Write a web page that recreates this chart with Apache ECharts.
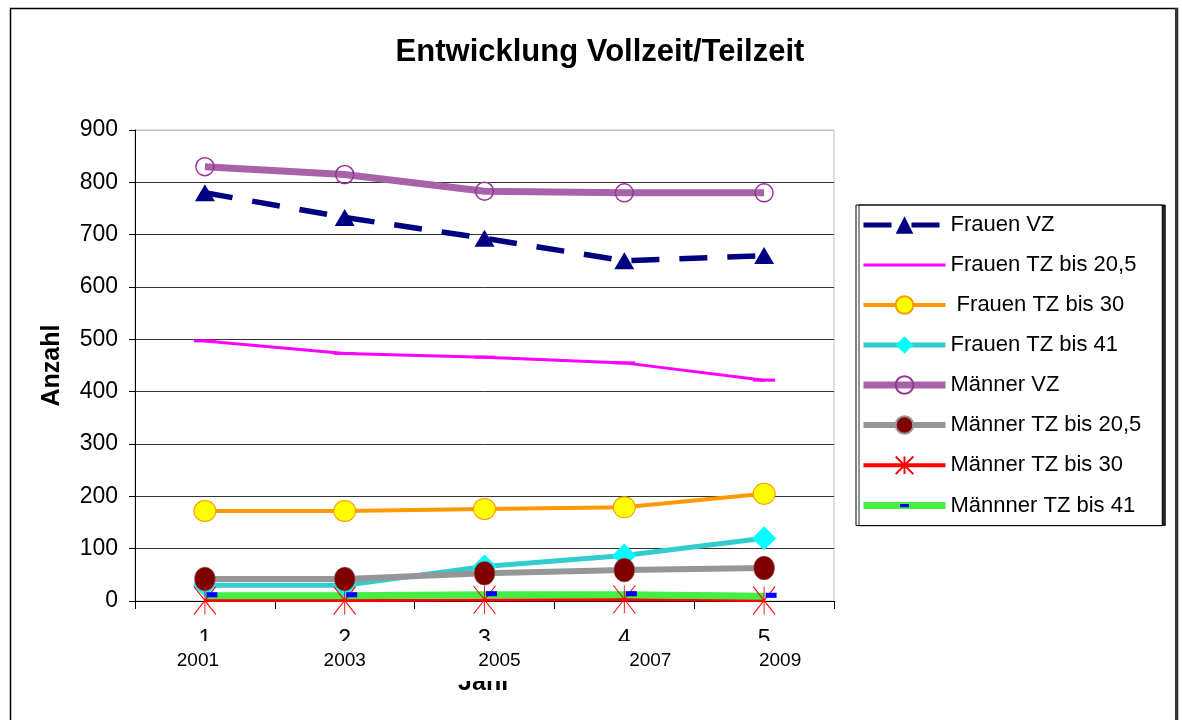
<!DOCTYPE html>
<html>
<head>
<meta charset="utf-8">
<script src="https://cdn.jsdelivr.net/npm/echarts@6/dist/echarts.min.js"></script>
<style>
  html, body { margin: 0; padding: 0; background: #fff; }
  #main { width: 1182px; height: 720px; }
</style>
</head>
<body>
<div id="main"></div>
<script>
// Daten
var kategorien = ["1", "2", "3", "4", "5"];
var jahre = ["2001", "2003", "2005", "2007", "2009"];

var frauenVZ = [780, 733, 693, 650, 660];
var frauenTZ205 = [497, 473, 466, 455, 422];
var frauenTZ30 = [172, 172, 176, 179, 205];
var frauenTZ41 = [30, 30, 66, 87, 120];
var maennerVZ = [830, 815, 783, 780, 780];
var maennerTZ205 = [42, 42, 53, 59, 63];
var maennerTZ30 = [1, 1, 2, 3, 1];
var maennerTZ41 = [10, 10, 12, 12, 9];

var namen = ["Frauen VZ", "Frauen TZ bis 20,5", " Frauen TZ bis 30", "Frauen TZ bis 41",
  "Männer VZ", "Männer TZ bis 20,5", "Männer TZ bis 30", "Männner TZ bis 41"];

var font = "Liberation Sans, Arial, sans-serif";
var stern = "path://M0,0 L10,10 M10,0 L0,10 M5,0 L5,10";
var strich = "path://M0,0 H12 V4 H0 Z";
// kleiner Balken mit unsichtbarem Rand, damit er auch in der Legende flach bleibt
var blauStrich = "path://M0,0 L0,0 M24,22 L24,22 M6,9 H18 V13 H6 Z";
// Jahreszahlen stehen im Original nicht genau mittig unter den Kategorien
var jahrVersatz = [-7, 0, 15, 26, 16];
var legendLinie = [5, 3, 4, 5, 7, 6, 4, 7];

var chart = echarts.init(document.getElementById("main"));

var option = {
  backgroundColor: "#fff",
  animation: false,
  title: {
    text: "Entwicklung Vollzeit/Teilzeit",
    left: 595,
    top: 32,
    textAlign: "center",
    textStyle: { fontFamily: font, fontSize: 31, fontWeight: "bold", color: "#000" }
  },
  grid: {
    left: 135,
    right: 348,
    top: 130,
    bottom: 119,
    show: true,
    borderColor: "#c0c0c0",
    borderWidth: 1,
    backgroundColor: "transparent"
  },
  legend: {
    orient: "vertical",
    left: 856,
    top: 205,
    itemWidth: 82,
    itemHeight: 22,
    itemGap: 18,
    padding: [9, 21, 9, 4],
    borderColor: "#000",
    borderWidth: 1,
    backgroundColor: "#fff",
    shadowColor: "rgba(0,0,0,0.85)",
    shadowOffsetX: 3,
    shadowOffsetY: 0,
    textStyle: { fontFamily: font, fontSize: 22, color: "#000" },
    data: namen.map(function (n, i) {
      var item = { name: n, lineStyle: { width: legendLinie[i] } };
      if (i === 1) item.itemStyle = { opacity: 0 };
      return item;
    })
  },
  xAxis: [
    {
      type: "category",
      data: kategorien,
      boundaryGap: true,
      name: "Jahr",
      nameLocation: "middle",
      nameGap: 70,
      nameTextStyle: { fontFamily: font, fontSize: 25, fontWeight: "bold", color: "#000" },
      axisLine: { lineStyle: { color: "#000", width: 1 } },
      axisTick: { show: true, length: 8, lineStyle: { color: "#000" } },
      axisLabel: { margin: 27, fontFamily: font, fontSize: 23, color: "#000" }
    },
    {
      type: "category",
      data: jahre.map(function (j, i) {
        var v = jahrVersatz[i];
        return { value: j, textStyle: { padding: v > 0 ? [0, 0, 0, 2 * v] : [0, -2 * v, 0, 0] } };
      }),
      position: "bottom",
      offset: 50,
      z: 20,
      axisLine: { show: false },
      axisTick: { show: false },
      axisLabel: { margin: 0, fontFamily: "Liberation Sans Narrow, Arial Narrow, sans-serif", fontSize: 19, color: "#000" }
    }
  ],
  yAxis: {
    type: "value",
    min: 0,
    max: 900,
    interval: 100,
    name: "Anzahl",
    nameLocation: "middle",
    nameGap: 70,
    nameTextStyle: { fontFamily: font, fontSize: 25, fontWeight: "bold", color: "#000" },
    axisLine: { show: true, lineStyle: { color: "#000", width: 1 } },
    axisTick: { show: true, length: 6, inside: false, lineStyle: { color: "#000" } },
    axisLabel: { margin: 17, fontFamily: font, fontSize: 23, color: "#000" },
    splitLine: {
      show: true,
      lineStyle: { color: ["#333", "#333", "#333", "#333", "#333", "#333", "#333", "#333", "#333", "#c0c0c0"], width: 1 }
    }
  },
  graphic: [
    {
      type: "rect",
      left: 8,
      top: 6,
      shape: { width: 1167, height: 730 },
      style: { fill: "none", stroke: "#000", lineWidth: 1.5 },
      z: 0
    },
    {
      type: "rect",
      left: 1175,
      top: 8,
      shape: { width: 3, height: 720 },
      style: { fill: "#333" },
      z: 0
    },
    {
      // weisse Flaeche, die die Kategorienbeschriftung teilweise verdeckt
      type: "rect",
      left: 140,
      top: 641,
      shape: { width: 690, height: 40 },
      style: { fill: "#fff" },
      z: 10
    }
  ],
  series: [
    {
      name: namen[0],
      type: "line",
      data: frauenVZ,
      symbol: "triangle",
      symbolSize: [20, 17],
      lineStyle: { color: "#000080", width: 5.5, type: [28, 20] },
      itemStyle: { color: "#000080" }
    },
    {
      name: namen[1],
      type: "line",
      data: frauenTZ205,
      symbol: strich,
      symbolSize: [22, 3],
      symbolKeepAspect: false,
      lineStyle: { color: "#ff00ff", width: 3 },
      itemStyle: { color: "#ff00ff" }
    },
    {
      name: namen[2],
      type: "line",
      data: frauenTZ30,
      symbol: "circle",
      symbolSize: [22, 21],
      lineStyle: { color: "#ff9900", width: 4 },
      itemStyle: { color: "#ffff00", borderColor: "#ff9900", borderWidth: 1 }
    },
    {
      name: namen[3],
      type: "line",
      data: frauenTZ41,
      symbol: "diamond",
      symbolSize: [24, 24],
      lineStyle: { color: "#33cccc", width: 5 },
      itemStyle: { color: "#00ffff" }
    },
    {
      name: namen[4],
      type: "line",
      data: maennerVZ,
      symbol: "circle",
      symbolSize: 18,
      lineStyle: { color: "#a862a8", width: 7 },
      itemStyle: { color: "transparent", borderColor: "#993399", borderWidth: 1.5 }
    },
    {
      name: namen[5],
      type: "line",
      data: maennerTZ205,
      symbol: "circle",
      symbolSize: [21, 24],
      lineStyle: { color: "#969696", width: 6 },
      itemStyle: { color: "#800000", borderColor: "#999", borderWidth: 0.5 }
    },
    {
      name: namen[6],
      type: "line",
      data: maennerTZ30,
      symbol: stern,
      symbolSize: [22, 28],
      lineStyle: { color: "#ff0000", width: 3 },
      itemStyle: { color: "none", borderColor: "#ff0000", borderWidth: 1 }
    },
    {
      name: namen[7],
      type: "line",
      data: maennerTZ41,
      symbol: blauStrich,
      symbolSize: [22, 28],
      symbolOffset: [7, -1],
      lineStyle: { color: "#44ee44", width: 7 },
      itemStyle: { color: "#0000ff" }
    }
  ]
};

chart.setOption(option);
</script>
</body>
</html>
